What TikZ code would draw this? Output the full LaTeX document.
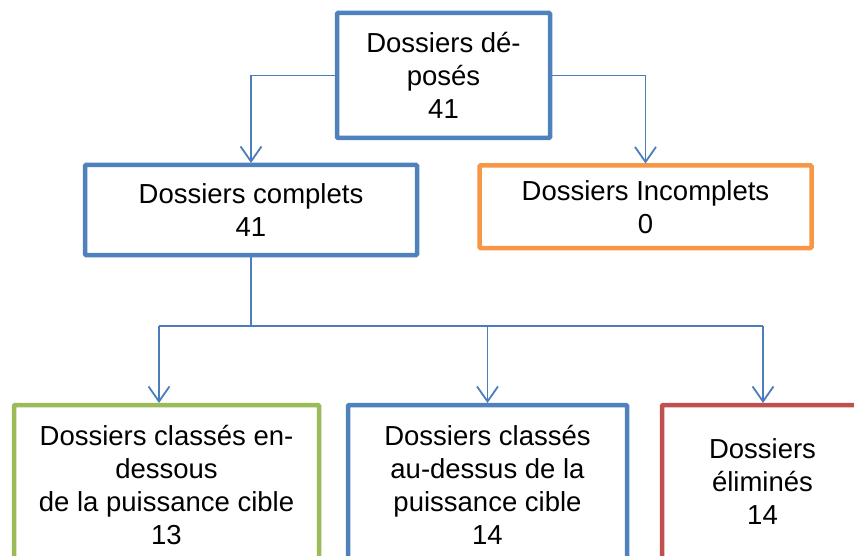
\documentclass[tikz,border=0pt]{standalone}
\usepackage{fontspec}
\setmainfont{Liberation Sans}
\usetikzlibrary{arrows.meta}
\definecolor{cblue}{HTML}{4F81BD}
\definecolor{corange}{HTML}{F79646}
\definecolor{cgreen}{HTML}{9BBB59}
\definecolor{cred}{HTML}{C0504D}
\definecolor{cline}{HTML}{4A7EBB}
\begin{document}
\begin{tikzpicture}[x=1pt,y=-1pt,
  txt/.style={inner sep=0pt, align=center, font=\fontsize{27.5}{33}\selectfont},
  box/.style={draw=#1, line width=4.5pt, rounded corners=1pt, fill=white,
    inner sep=0pt, outer sep=2pt, txt},
  conn/.style={draw=cline, line width=1.8pt,
    -{Straight Barb[length=15pt,width=21pt,line width=1.8pt]}},
  plain/.style={draw=cline, line width=1.8pt}]
\useasboundingbox (0,0) rectangle (854,556);
\clip (0,0) rectangle (854,556);
\node[box=cblue, minimum width=213pt, minimum height=125pt] (top) at (443.5,75.5)
  {Dossiers dé-\\posés\\41};
\node[box=cblue, minimum width=332pt, minimum height=90pt] (comp) at (251,210)
  {Dossiers complets\\41};
\node[box=corange, minimum width=332pt, minimum height=82.5pt] (incomp) at (645.5,206.75)
  {Dossiers Incomplets\\0};
\node[box=cgreen, minimum width=305pt, minimum height=160pt] (green) at (166.5,485)
  {Dossiers classés en-\\dessous\\de la puissance cible\\13};
\node[box=cblue, minimum width=279pt, minimum height=160pt] (blue) at (487.5,485)
  {Dossiers classés\\au-dessus de la\\puissance cible\\14};
\node[box=cred, minimum width=298pt, minimum height=160pt] (red) at (811,485) {};
\node[txt] (redtxt) at (762.5,482) {Dossiers\\éliminés\\14};
\coordinate (bus) at (251,326);
\coordinate (gx) at (159,326);
\coordinate (bx) at (487.5,326);
\coordinate (rx) at (763,326);
\draw[conn] (top.west) -| (comp.north);
\draw[conn] (top.east) -| (incomp.north);
\draw[plain] (comp.south) -- (bus);
\draw[plain] (gx) -- (rx);
\draw[conn] (gx) -- (gx |- green.north);
\draw[conn] (bx) -- (bx |- blue.north);
\draw[conn] (rx) -- (rx |- red.north);
\end{tikzpicture}
\end{document}
